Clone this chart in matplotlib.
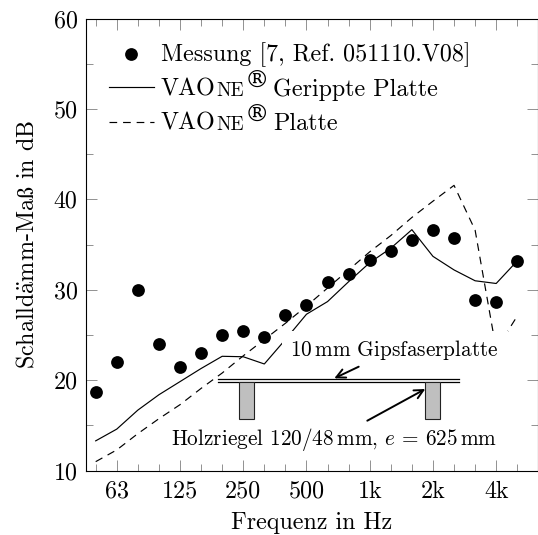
import matplotlib
matplotlib.use('Agg')
import matplotlib.pyplot as plt
from matplotlib.patches import Rectangle

plt.rcParams['font.family'] = ['cmr10', 'DejaVu Serif']
plt.rcParams['mathtext.fontset'] = 'cm'

# Terzbaender
frequenzen = ['50', '63', '80', '100', '125', '160', '200', '250', '315', '400', '500',
              '630', '800', '1k', '1.25k', '1.6k', '2k', '2.5k', '3.15k', '4k', '5k']
messung = [18.7, 22.0, 30.0, 24.0, 21.5, 23.0, 25.0, 25.5, 24.8, 27.2, 28.3,
           30.9, 31.8, 33.3, 34.3, 35.5, 36.6, 35.7, 28.9, 28.6, 33.2]
gerippt = [13.3, 14.6, 16.7, 18.4, 19.85, 21.3, 22.65, 22.6, 21.8, 24.5, 27.3,
           28.7, 30.9, 33.0, 34.6, 36.65, 33.7, 32.2, 31.0, 30.7, 33.2]
platte = [11.0, 12.3, 14.1, 15.75, 17.3, 19.1, 20.8, 22.7, 24.5, 26.3, 28.2,
          30.2, 32.2, 34.2, 36.0, 38.0, 39.8, 41.55, 36.6, 23.4, 27.1]
haupt_ticks = ['63', '125', '250', '500', '1k', '2k', '4k']

W, H = 538, 535
fig = plt.figure(figsize=(W / 100, H / 100), dpi=100)
ax = fig.add_axes([86 / W, 1 - 470.7 / H, (537.5 - 86) / W, (470.7 - 18.5) / H])

pos = list(range(len(frequenzen)))
ax.plot(pos, gerippt, color='black', lw=0.85)
ax.plot(pos, platte, color='black', lw=0.85, dashes=(6.5, 5))
ax.plot(pos, messung, 'o', color='black', ms=9.2, mew=0, clip_on=False)

ax.set_xlim(-0.46, 20.96)
ax.set_ylim(10, 60)
ax.set_xticks([frequenzen.index(f) for f in haupt_ticks])
ax.set_xticklabels(haupt_ticks)
ax.set_xticks(pos, minor=True)
ax.set_yticks([10, 20, 30, 40, 50, 60])
ax.set_yticks([15, 25, 35, 45, 55], minor=True)
ax.tick_params(which='major', direction='in', length=8, width=0.45, top=True, right=True,
               color='#555555', labelsize=17.3)
ax.tick_params(which='minor', direction='in', length=5, width=0.45, top=True, right=True,
               color='#555555')
ax.tick_params(axis='x', which='major', pad=7)
ax.tick_params(axis='y', which='major', pad=6)
for s in ax.spines.values():
    s.set_linewidth(0.8)
ax.set_xlabel('Frequenz in Hz', fontsize=17.3, labelpad=7)
ax.set_ylabel('Schalld$\\ddot{\\mathrm{a}}$mm-Ma$\\mathrm{\\ss}$ in dB', fontsize=17.3, labelpad=11)

# Ebene in Pixelkoordinaten fuer Legende und Skizze
ov = fig.add_axes([0, 0, 1, 1], facecolor='none')
ov.set_xlim(0, W)
ov.set_ylim(H, 0)
ov.axis('off')


def kapitaelchen(x, y, rest):
    # VAOne mit kleinen Kapitaelchen, danach das R im Kreis
    r = fig.canvas.get_renderer()
    t = ov.text(x, y, 'VAO', fontsize=17.3, va='baseline')
    x2 = x + t.get_window_extent(r).width + 0.5
    t = ov.text(x2, y, 'NE', fontsize=13.8, va='baseline')
    x2 = x2 + t.get_window_extent(r).width + 1
    ov.text(x2, y - 8, '®', fontsize=17.5, va='baseline', family=['DejaVu Serif'])
    ov.text(x + 112, y, rest, fontsize=17.3, va='baseline')


ov.plot([131], [54], 'o', color='black', ms=9.2, mew=0)
ov.text(161, 61, 'Messung [7, Ref. 051110.V08]', fontsize=17.3, va='baseline')
ov.plot([109, 154], [87.3, 87.3], color='black', lw=0.85)
kapitaelchen(161, 96, 'Gerippte Platte')
ov.plot([109, 154], [121.7, 121.7], color='black', lw=0.85, dashes=(6.5, 5))
kapitaelchen(161, 130, 'Platte')

# Skizze
ov.add_patch(Rectangle((282, 331), 226, 108, fc='white', ec='none', zorder=2))
ov.plot([218, 459], [378.5, 378.5], color='black', lw=0.9, zorder=3)
ov.plot([218, 459], [382.3, 382.3], color='black', lw=0.9, zorder=3)
ov.add_patch(Rectangle((239, 382.3), 14.7, 36.4, fc='#bfbfbf', ec='#222222', lw=0.8, zorder=3))
ov.add_patch(Rectangle((425.3, 382.3), 15, 36.4, fc='#bfbfbf', ec='#222222', lw=0.8, zorder=3))
ov.text(394, 356, '10$\\,$mm Gipsfaserplatte', fontsize=15.3, ha='center', va='baseline', zorder=4)
ov.text(334, 445, 'Holzriegel 120/48$\\,$mm, $e$ = 625$\\,$mm', fontsize=15.3, ha='center', va='baseline', zorder=4)
ov.annotate('', xy=(334.3, 378.3), xytext=(358.7, 366.7), zorder=5,
            arrowprops=dict(arrowstyle='->', lw=1.4, color='black', shrinkA=0, shrinkB=0, mutation_scale=16))
ov.annotate('', xy=(425.3, 389), xytext=(367.3, 420.7), zorder=5,
            arrowprops=dict(arrowstyle='->', lw=1.4, color='black', shrinkA=0, shrinkB=0, mutation_scale=16))

fig.savefig('out.png', dpi=100)
